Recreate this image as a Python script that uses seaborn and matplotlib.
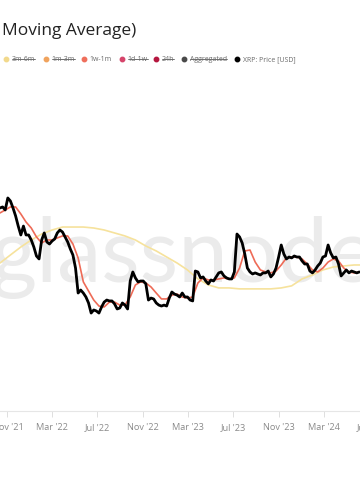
import numpy as np
import pandas as pd
import matplotlib
matplotlib.use("Agg")
import matplotlib.pyplot as plt
import matplotlib.dates as mdates
from matplotlib.lines import Line2D
import seaborn as sns

# ---------------- data ----------------
price_start = "2021-10-12"          # weekly samples
price_usd = [
    1.142, 1.157, 1.113, 1.297, 1.248, 1.142, 1.031, 0.907, 0.810, 0.907,
    0.810, 0.810, 0.760, 0.695, 0.620, 0.597, 0.760, 0.831, 0.741, 0.722,
    0.750, 0.770, 0.831, 0.863, 0.841, 0.790, 0.741, 0.678, 0.628, 0.532,
    0.387, 0.402, 0.387, 0.368, 0.341, 0.300, 0.312, 0.308, 0.300, 0.324,
    0.345, 0.354, 0.350, 0.350, 0.337, 0.316, 0.320, 0.341, 0.332, 0.316,
    0.451, 0.506, 0.469, 0.446, 0.451, 0.451, 0.435, 0.354, 0.363, 0.359,
    0.341, 0.332, 0.328, 0.332, 0.328, 0.363, 0.392, 0.382, 0.377, 0.368,
    0.387, 0.368, 0.368, 0.354, 0.350, 0.512, 0.506, 0.469, 0.475, 0.451,
    0.435, 0.457, 0.451, 0.475, 0.500, 0.506, 0.481, 0.469, 0.463, 0.463,
    0.506, 0.820, 0.790, 0.732, 0.636, 0.532, 0.506, 0.493, 0.500, 0.493,
    0.487, 0.500, 0.500, 0.512, 0.475, 0.493, 0.532, 0.612, 0.713, 0.636,
    0.597, 0.612, 0.605, 0.620, 0.612, 0.612, 0.582, 0.560, 0.560, 0.512,
    0.500, 0.519, 0.546, 0.567, 0.612, 0.620, 0.713, 0.644, 0.605, 0.612,
    0.560, 0.481, 0.500, 0.519, 0.500, 0.512, 0.506, 0.500, 0.506,
]
ma_1w1m_start = "2021-10-12"        # two-weekly samples
ma_1w1m = [
    1.072, 1.113, 1.157, 1.157, 1.058, 0.955, 0.885, 0.790, 0.732, 0.760,
    0.760, 0.780, 0.800, 0.800, 0.722, 0.605, 0.446, 0.397, 0.354, 0.328,
    0.324, 0.345, 0.345, 0.332, 0.332, 0.368, 0.429, 0.446, 0.440, 0.418,
    0.387, 0.359, 0.359, 0.377, 0.382, 0.368, 0.363, 0.368, 0.440, 0.469,
    0.457, 0.457, 0.463, 0.469, 0.463, 0.469, 0.532, 0.661, 0.669, 0.574,
    0.519, 0.506, 0.500, 0.512, 0.553, 0.605, 0.612, 0.612, 0.597, 0.560,
    0.519, 0.506, 0.532, 0.574, 0.597, 0.582, 0.532, 0.506, 0.500, 0.506,
]
long_start = "2021-10-12"           # four-weekly samples
long_band = [
    0.567, 0.628, 0.695, 0.760, 0.820, 0.863, 0.896, 0.896, 0.896, 0.885,
    0.863, 0.831, 0.800, 0.760, 0.704, 0.661, 0.612, 0.567, 0.519, 0.463,
    0.429, 0.413, 0.413, 0.408, 0.408, 0.408, 0.408, 0.413, 0.424, 0.463,
    0.487, 0.519, 0.539, 0.546, 0.553, 0.553,
]

legend_labels = ["3m-6m", "1m-3m", "1w-1m", "1d-1w", "24h", "Aggregated", "XRP: Price [USD]"]
legend_colors = ["#f2d98c", "#f0a35e", "#ef6f5c", "#d6456b", "#b5173f", "#4a4a4a", "#000000"]
legend_hidden = [True, True, False, True, True, True, False]
title_text = "Moving Average)"
watermark = "glassnode"

df_price = pd.DataFrame({"date": pd.date_range(price_start, periods=len(price_usd), freq="7D"),
                         "value": price_usd})
df_ma = pd.DataFrame({"date": pd.date_range(ma_1w1m_start, periods=len(ma_1w1m), freq="14D"),
                      "value": ma_1w1m})
df_long = pd.DataFrame({"date": pd.date_range(long_start, periods=len(long_band), freq="28D"),
                        "value": long_band})

# ---------------- layout ----------------
sns.set_theme(style="white")
plt.rcParams["font.family"] = ["Open Sans", "DejaVu Sans"]

W, H = 360, 504
fig = plt.figure(figsize=(W / 100, H / 100), dpi=100)
fig.patch.set_facecolor("white")

ax_bottom_px, ax_top_px = 411, 80
ax = fig.add_axes([0, 1 - ax_bottom_px / H, 400 / W, (ax_bottom_px - ax_top_px) / H])
ax.patch.set_alpha(0)

# watermark behind lines
ax.text(183 / W, 1 - 282 / H, watermark, transform=fig.transFigure, ha="center",
        va="baseline", fontsize=64, color="#ebebeb", family=["Lato", "DejaVu Sans"],
        fontweight="normal", zorder=0)

sns.lineplot(data=df_long, x="date", y="value", ax=ax, color="#f6e29c", lw=1.2,
             legend=False, zorder=2)
sns.lineplot(data=df_ma, x="date", y="value", ax=ax, color="#ee6b57", lw=1.2,
             legend=False, zorder=3)
sns.lineplot(data=df_price, x="date", y="value", ax=ax, color="#000000", lw=2.0,
             legend=False, zorder=4)

ax.set_yscale("log")
ax.set_ylim(0.0863, 5.816)
px_per_day = 0.372
x0 = pd.Timestamp(price_start)
ax.set_xlim(x0, x0 + pd.Timedelta(days=400 / px_per_day))

ax.xaxis.set_major_locator(mdates.MonthLocator(bymonth=[3, 7, 11]))
ax.xaxis.set_major_formatter(mdates.DateFormatter("%b '%y"))
ax.yaxis.set_visible(False)
for s in ["top", "left", "right"]:
    ax.spines[s].set_visible(False)
ax.spines["bottom"].set_color("#e6e6e6")
ax.spines["bottom"].set_linewidth(0.8)
ax.tick_params(axis="x", bottom=True, length=4, width=0.6, color="#d9d9d9",
               labelsize=6.6, labelcolor="#8a8a8a", pad=5)
ax.set_xlabel("")
ax.set_ylabel("")
ax.grid(False)

# title (cropped in the original)
fig.text(2 / W, 1 - 35 / H, title_text, ha="left", va="baseline", fontsize=12.5,
         color="#222222")

# legend row
dot_x = [6, 46, 84, 122, 156, 184, 237]
leg_y = 1 - 59 / H
base_y = 1 - 61.2 / H
fs = 5.0
texts = []
for lx, lab, col in zip(dot_x, legend_labels, legend_colors):
    fig.add_artist(Line2D([lx / W], [leg_y], marker="o", ms=3.2, color=col,
                          lw=0, transform=fig.transFigure))
    t = fig.text((lx + 5.5) / W, base_y, lab, ha="left", va="baseline", fontsize=fs,
                 color="#6b6b6b")
    texts.append(t)

fig.canvas.draw()
r = fig.canvas.get_renderer()
inv = fig.transFigure.inverted()
strike_y = base_y + (fs * 100 / 72) * 0.27 / H
for t, hid in zip(texts, legend_hidden):
    if not hid:
        continue
    bb = t.get_window_extent(r).transformed(inv)
    fig.add_artist(Line2D([bb.x0, bb.x1], [strike_y, strike_y], color="#5a5a5a", lw=0.6,
                          transform=fig.transFigure))

fig.savefig("out.png", dpi=100)
